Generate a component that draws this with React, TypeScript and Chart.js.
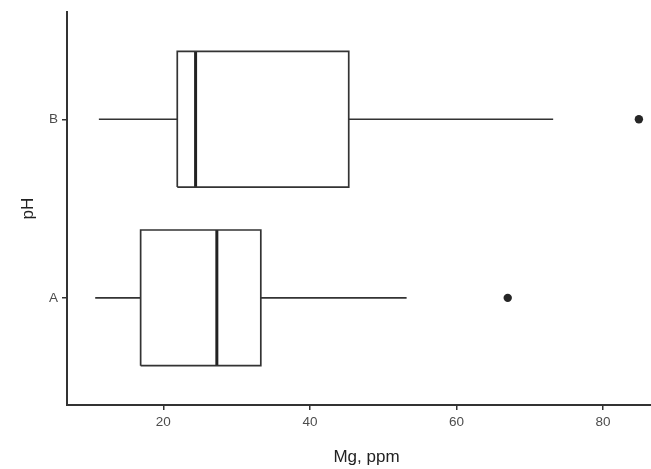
import React, { useEffect, useRef } from "react";
import { Chart, registerables } from "chart.js";

Chart.register(...registerables);

const categories = ["A", "B"];
const whiskerLow = [10.7, 11.2];
const q1 = [16.9, 21.9];
const median = [27.3, 24.4];
const q3 = [33.3, 45.3];
const whiskerHigh = [53.2, 73.2];
const outliers = [[67.0], [84.9]];
const xTicks = [20, 40, 60, 80];

const BOX_HALF = 0.38;
const LINE = "#333333";
const FONT = "'Liberation Sans', Arial, sans-serif";

function buildDatasets() {
  const ds: any[] = [];
  const lineBase = {
    type: "scatter",
    showLine: true,
    pointRadius: 0,
    pointHoverRadius: 0,
    borderColor: LINE,
    backgroundColor: LINE,
    borderWidth: 1.7,
    fill: false,
  };
  categories.forEach((_, i) => {
    const y = i + 1;
    ds.push({
      ...lineBase,
      data: [
        { x: q1[i], y: y - BOX_HALF },
        { x: q3[i], y: y - BOX_HALF },
        { x: q3[i], y: y + BOX_HALF },
        { x: q1[i], y: y + BOX_HALF },
        { x: q1[i], y: y - BOX_HALF },
      ],
    });
    ds.push({ ...lineBase, data: [{ x: whiskerLow[i], y }, { x: q1[i], y }] });
    ds.push({ ...lineBase, data: [{ x: q3[i], y }, { x: whiskerHigh[i], y }] });
    ds.push({
      ...lineBase,
      borderWidth: 3,
      borderColor: "#222222",
      data: [
        { x: median[i], y: y - BOX_HALF },
        { x: median[i], y: y + BOX_HALF },
      ],
    });
    ds.push({
      type: "scatter",
      showLine: false,
      pointRadius: 4.2,
      pointBorderWidth: 0,
      pointBackgroundColor: "#262626",
      backgroundColor: "#262626",
      borderColor: "#262626",
      data: outliers[i].map((v) => ({ x: v, y })),
    });
  });
  return ds;
}

export default function App() {
  const ref = useRef<HTMLCanvasElement | null>(null);
  useEffect(() => {
    if (!ref.current) return;
    const chart = new Chart(ref.current, {
      type: "scatter",
      data: { datasets: buildDatasets() },
      options: {
        animation: false,
        responsive: false,
        maintainAspectRatio: false,
        layout: { padding: { top: 9, left: 0, right: 14, bottom: 0 } },
        plugins: { legend: { display: false }, tooltip: { enabled: false } },
        scales: {
          x: {
            type: "linear",
            min: 6.85,
            max: 88.6,
            afterBuildTicks: (scale: any) => {
              scale.ticks = xTicks.map((v) => ({ value: v }));
            },
            afterFit: (scale: any) => {
              scale.height = 64;
            },
            grid: {
              drawOnChartArea: false,
              drawTicks: true,
              tickLength: 5,
              color: LINE,
              lineWidth: 1.5,
            },
            border: { display: true, color: LINE, width: 2 },
            ticks: {
              color: "#4d4d4d",
              padding: 4,
              font: { family: FONT, size: 13.5 },
            },
            title: {
              display: true,
              text: "Mg, ppm",
              color: "#222222",
              padding: { top: 0, bottom: 1 },
              font: { family: FONT, size: 17 },
            },
          },
          y: {
            type: "linear",
            min: 0.4,
            max: 2.6,
            afterBuildTicks: (scale: any) => {
              scale.ticks = categories.map((_, i) => ({ value: i + 1 }));
            },
            afterFit: (scale: any) => {
              scale.width = 67;
            },
            grid: {
              drawOnChartArea: false,
              drawTicks: true,
              tickLength: 5,
              color: LINE,
              lineWidth: 1.5,
            },
            border: { display: true, color: LINE, width: 2 },
            ticks: {
              color: "#4d4d4d",
              padding: 4,
              font: { family: FONT, size: 13.5 },
              callback: (v: any) => categories[Math.round(Number(v)) - 1] ?? "",
            },
            title: {
              display: true,
              text: "pH",
              color: "#222222",
              padding: { top: 18, bottom: 0 },
              font: { family: FONT, size: 17 },
            },
          },
        },
      },
    } as any);
    return () => chart.destroy();
  }, []);
  return (
    <div style={{ position: "fixed", left: 0, top: 0, width: 651, height: 469, overflow: "hidden", background: "#fff" }}>
      <canvas ref={ref} width={680} height={469} style={{ width: 680, height: 469, display: "block" }} />
    </div>
  );
}
